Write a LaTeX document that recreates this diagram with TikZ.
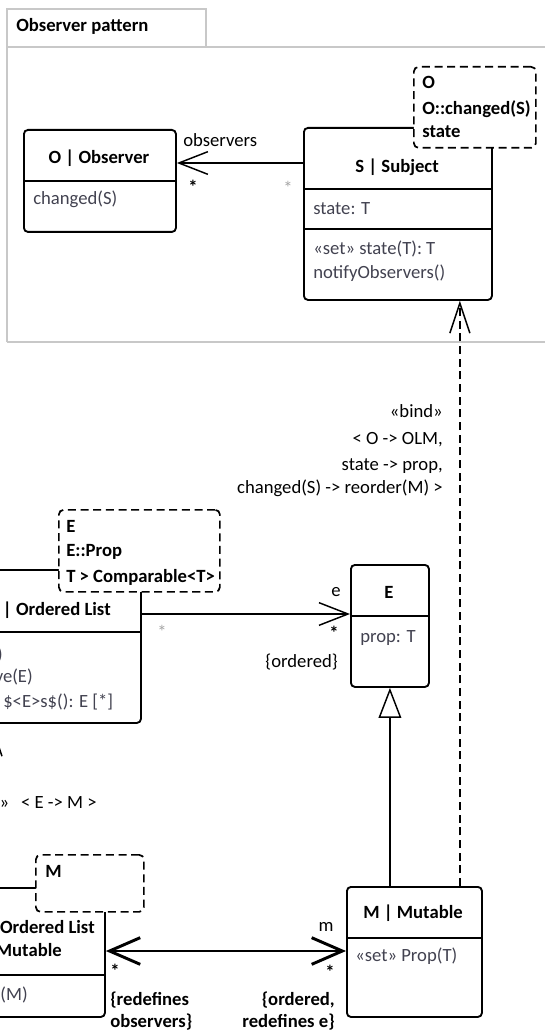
\documentclass[tikz,border=0pt]{standalone}
\usepackage{fontspec}
\setmainfont{Carlito}
\usepackage{tikz}
\usetikzlibrary{arrows.meta,calc,positioning}

\definecolor{attrgray}{RGB}{66,66,80}
\definecolor{framegray}{RGB}{200,200,200}
\definecolor{stargray}{RGB}{165,165,165}
\newcommand\diagfont{\fontsize{14}{18}\selectfont}

\tikzset{
  umlclass/.style={draw, line width=1.4pt, rounded corners=3pt, anchor=north west, inner sep=0pt},
  tparam/.style={draw, line width=1.3pt, dash pattern=on 6pt off 3.5pt, rounded corners=3.5pt, fill=white, anchor=north west, inner sep=0pt},
  sepline/.style={line width=1.1pt},
  txt/.style={inner sep=0pt, anchor=mid west, yshift=-2pt},
  rtxt/.style={inner sep=0pt, anchor=mid east, yshift=-2pt},
  ctxt/.style={inner sep=0pt, anchor=mid, yshift=-2pt},
  bold/.style={font=\diagfont\bfseries},
  attr/.style={txt, text=attrgray},
  ctitle/.style={ctxt, bold},
  mult/.style={ctxt, bold},
  ghost/.style={ctxt, text=stargray},
  assoc/.style={line width=1.1pt, -{Straight Barb[length=21.75pt, width=17pt]}},
  thickassoc/.style={line width=2.2pt, {Straight Barb[length=23pt, width=20pt]}-{Straight Barb[length=23pt, width=20pt]}},
  bindarrow/.style={line width=1.1pt, dash pattern=on 6pt off 3.5pt, -{Straight Barb[length=22.5pt, width=15pt]}},
  genarrow/.style={line width=1.1pt, -{Triangle[length=22.5pt, width=17pt, fill=white]}},
  framebox/.style={draw=framegray, line width=1.1pt}
}

\begin{document}
\begin{tikzpicture}[x=0.75pt, y=-0.75pt, font=\diagfont]
\useasboundingbox (0,0) rectangle (545,1030);
\clip (0,0) rectangle (545,1030);

% frame of the pattern
\draw[framebox] (7,342) -- (7,9) -- (206,9) -- (206,47);
\draw[framebox] (7,47) -- (560,47);
\draw[framebox] (7,342) -- (560,342);
\node[txt, bold] (frametitle) at (16,26) {Observer pattern};

% Observer
\node[umlclass, minimum width=114pt, minimum height=76.5pt] (obs) at (23,129) {};
\draw[sepline] ([yshift=-39pt]obs.north west) -- ([yshift=-39pt]obs.north east);
\node[ctitle] (obstitle) at (99,158) {O | Observer};
\node[attr] (obsop) at (33,199) {changed(S)};

% Subject
\node[umlclass, minimum width=141pt, minimum height=129pt] (subj) at (303,127) {};
\draw[sepline] ([yshift=-46.5pt]subj.north west) -- ([yshift=-46.5pt]subj.north east);
\draw[sepline] ([yshift=-76.5pt]subj.north west) -- ([yshift=-76.5pt]subj.north east);
\node[ctitle] (subjtitle) at (397,167) {S | Subject};
\node[attr] (subjattr) at (313,209) {state: T};
\node[attr] (subjop1) at (313,249) {«set» state(T): T};
\node[attr] (subjop2) at (313,273) {notifyObservers()};
\node[tparam, minimum width=91.5pt, minimum height=60.75pt] (tplO) at (413,66) {};
\node[txt, bold] (tplO1) at (422,83) {O};
\node[txt, bold] (tplO2) at (422,109) {O::changed(S)};
\node[txt, bold] (tplO3) at (422,132) {state};

% observers association
\coordinate (obsin) at ([yshift=-27pt]subj.north west);
\draw[assoc] (obsin) -- (obs.east |- obsin);
\node[txt] (obsrole) at (183,141) {observers};
\node[mult] (obsmult) at (193,188) {*};
\node[ghost] (subjmult) at (288,189) {*};

% Ordered List
\node[umlclass, minimum width=150pt, minimum height=114.75pt] (ol) at (-60,569) {};
\draw[sepline] ([yshift=-47.25pt]ol.north west) -- ([yshift=-47.25pt]ol.north east);
\node[rtxt, bold] (oltitle) at (111,610) {| Ordered List};
\node[attr, anchor=mid east] (olop1) at (3,655) {)};
\node[attr, anchor=mid east] (olop2) at (33,677) {ve(E)};
\node[attr] (olop3) at (3,702) {\$<E>s\$(): E [*]};
\node[tparam, minimum width=120.75pt, minimum height=61.5pt] (tplE) at (58,509) {};
\node[txt, bold] (tplE1) at (66,527) {E};
\node[txt, bold] (tplE2) at (66,551) {E::Prop};
\node[txt, bold] (tplE3) at (66,577) {T > Comparable<T>};

% E
\node[umlclass, minimum width=58.5pt, minimum height=91.5pt] (ecls) at (350,564) {};
\draw[sepline] ([yshift=-39pt]ecls.north west) -- ([yshift=-39pt]ecls.north east);
\node[ctitle] (etitle) at (389,593) {E};
\node[attr] (eattr) at (360,637) {prop: T};

% e association
\coordinate (olout) at ([yshift=-33.75pt]ol.north east);
\draw[assoc] (olout) -- (ecls.west |- olout);
\node[ctxt] (erole) at (336,591) {e};
\node[mult] (emult) at (334,634) {*};
\node[rtxt] (eprop) at (338,662) {\{ordered\}};
\node[ghost] (olmult) at (162,633) {*};

% Ordered List Mutable
\node[umlclass, minimum width=123pt, minimum height=96.75pt] (olm) at (-60,887) {};
\draw[sepline] ([yshift=-66pt]olm.north west) -- ([yshift=-66pt]olm.north east);
\node[rtxt, bold] (olmtitle1) at (95,928) {Ordered List};
\node[rtxt, bold] (olmtitle2) at (62,951) {Mutable};
\node[attr, anchor=mid east] (olmop) at (28,995) {r(M)};
\node[tparam, minimum width=81pt, minimum height=42.75pt] (tplM) at (35,854) {};
\node[txt, bold] (tplM1) at (45,872) {M};

% bind of Ordered List
\coordinate (bindl) at (-8,887);
\draw[bindarrow] (bindl) -- (ol.south -| bindl);
\node[rtxt] (bindltext) at (97,803) {«bind»\hspace{9pt}< E -> M >};

% Mutable
\node[umlclass, minimum width=101.25pt, minimum height=97.5pt] (mut) at (346,886) {};
\draw[sepline] ([yshift=-39pt]mut.north west) -- ([yshift=-39pt]mut.north east);
\node[ctitle] (muttitle) at (413,913) {M | Mutable};
\node[attr] (mutop) at (355,956) {«set» Prop(T)};

% generalization
\draw[genarrow] (mut.north -| ecls.south) -- (ecls.south);

% bind to Subject
\coordinate (binds) at ([xshift=-17.25pt]mut.north east);
\draw[bindarrow] (binds) -- (subj.south -| binds);
\node[rtxt] (bind1) at (443,412) {«bind»};
\node[rtxt] (bind2) at (443,439) {< O -> OLM,};
\node[rtxt] (bind3) at (443,465) {state -> prop,};
\node[rtxt] (bind4) at (443,488) {changed(S) -> reorder(M) >};

% m association
\coordinate (mutin) at ([yshift=-48.75pt]mut.north west);
\draw[thickassoc] (olm.east |- mutin) -- (mutin);
\node[mult] (olmmult) at (115,972) {*};
\node[txt, bold] (olmprop1) at (110,1000) {\{redefines};
\node[txt, bold] (olmprop2) at (110,1022) {observers\}};
\node[ctxt] (mrole) at (326,926) {m};
\node[mult] (mmult) at (330,973) {*};
\node[rtxt, bold] (mprop1) at (335,1000) {\{ordered,};
\node[rtxt, bold] (mprop2) at (335,1022) {redefines e\}};
\end{tikzpicture}
\end{document}
